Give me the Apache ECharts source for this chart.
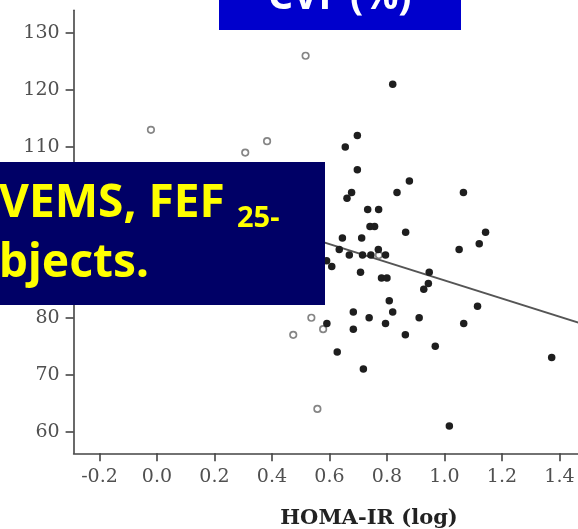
<!DOCTYPE html>
<html><head><meta charset="utf-8">
<script src="https://cdn.jsdelivr.net/npm/echarts@6/dist/echarts.min.js"></script>
<style>html,body{margin:0;padding:0;background:#fff}#c{width:578px;height:529px}</style>
</head><body><div id="c"></div>
<script>
// Tick labels
const xTicks = [-0.2, 0.0, 0.2, 0.4, 0.6, 0.8, 1.0, 1.2, 1.4];
const yTicks = [60, 70, 80, 90, 100, 110, 120, 130];
// Filled points: HOMA-IR (log) vs CVF (%)
const filledX = [0.820, 0.697, 0.655, 0.697, 0.878, 0.835, 1.066, 0.677, 0.661, 0.733, 0.771, 0.741, 0.757, 0.865, 1.143, 1.121, 1.051, 0.645, 0.712, 0.634, 0.669, 0.715, 0.744, 0.770, 0.795, 0.590, 0.608, 0.708, 0.781, 0.800, 0.947, 0.944, 0.928, 0.808, 1.115, 0.683, 0.820, 0.738, 0.912, 0.591, 0.683, 0.795, 1.067, 0.864, 0.968, 0.627, 0.718, 1.017, 1.373];
const filledY = [121, 112, 110, 106, 104, 102, 102, 102, 101, 99, 99, 96, 96, 95, 95, 93, 92, 94, 94, 92, 91, 91, 91, 92, 91, 90, 89, 88, 87, 87, 88, 86, 85, 83, 82, 81, 81, 80, 80, 79, 78, 79, 79, 77, 75, 74, 71, 61, 73];
// Open circles
const openX = [-0.021, 0.307, 0.383, 0.517, 0.537, 0.578, 0.474, 0.558, 0.772];
const openY = [113, 109, 111, 126, 80, 78, 77, 64, 91];
// Regression line end points
const fitX = [-0.02, 1.50];
const fitY = [102.8, 78.6];

const toPairs = (xs, ys) => xs.map((x, i) => [x, ys[i]]);

const chart = echarts.init(document.getElementById('c'), null, {renderer: 'canvas'});
const labelFont = {fontFamily: 'DejaVu Serif', fontSize: 19, color: '#505050'};
chart.setOption({
  animation: false,
  backgroundColor: '#ffffff',
  grid: {left: 73.6, top: 10.2, width: 514.6, height: 443.1, containLabel: false, outerBoundsMode: 'none'},
  xAxis: {
    type: 'value', min: -0.29, max: 1.5,
    axisLine: {show: true, onZero: false, lineStyle: {color: '#444', width: 1.6}},
    axisTick: {show: true, length: 8, lineStyle: {color: '#444', width: 1.6}, customValues: xTicks},
    axisLabel: Object.assign({customValues: xTicks, margin: 14, formatter: v => v.toFixed(1)}, labelFont),
    splitLine: {show: false}
  },
  yAxis: {
    type: 'value', min: 56.2, max: 134,
    axisLine: {show: true, onZero: false, lineStyle: {color: '#444', width: 1.6}},
    axisTick: {show: true, length: 8, lineStyle: {color: '#444', width: 1.6}, customValues: yTicks},
    axisLabel: Object.assign({customValues: yTicks, margin: 14}, labelFont),
    splitLine: {show: false}
  },
  series: [
    {type: 'line', data: toPairs(fitX, fitY), showSymbol: false, symbol: 'none',
     lineStyle: {color: '#555', width: 2}, z: 2, silent: true},
    {type: 'scatter', data: toPairs(openX, openY), symbolSize: 6.5,
     itemStyle: {color: '#fff', borderColor: '#666', borderWidth: 1.7}, z: 3},
    {type: 'scatter', data: toPairs(filledX, filledY), symbolSize: 7.5,
     itemStyle: {color: '#1e1e1e', opacity: 1}, z: 4}
  ],
  graphic: [
    {type: 'rect', z: 100, shape: {x: 219, y: 0, width: 242, height: 30}, style: {fill: '#0000cc'}},
    {type: 'text', z: 101, x: 268, y: -22, style: {text: 'CVF (%)', fill: '#ffffff', font: 'bold 39px "Noto Sans"'}},
    {type: 'rect', z: 100, shape: {x: 0, y: 162, width: 325, height: 143}, style: {fill: '#000066'}},
    {type: 'text', z: 101, x: -1, y: 181, style: {text: 'VEMS, FEF', fill: '#ffff00', font: 'bold 46px "Noto Sans"'}},
    {type: 'text', z: 101, x: 237, y: 204, style: {text: '25-', fill: '#ffff00', font: 'bold 29px "Noto Sans"'}},
    {type: 'text', z: 101, x: -1, y: 241, style: {text: 'bjects.', fill: '#ffff00', font: 'bold 46px "Noto Sans"'}},
    {type: 'text', z: 101, x: 369, y: 508, style: {text: 'HOMA-IR (log)', fill: '#222', font: 'bold 21px "DejaVu Serif"', align: 'center'}}
  ]
});
</script>
</body></html>
